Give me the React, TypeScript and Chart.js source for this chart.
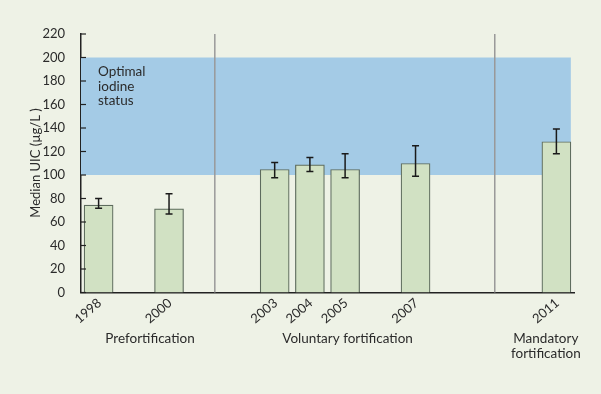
import React, { useEffect, useRef } from "react";
import { Chart, registerables } from "chart.js";

Chart.register(...registerables);

const years = [1998, 2000, 2003, 2004, 2005, 2007, 2011];
const medians = [74.3, 71.2, 104.7, 108.7, 104.7, 109.8, 128.3];
const errLow = [71.8, 66.9, 97.6, 103.0, 97.6, 99.0, 118.0];
const errHigh = [80.0, 84.0, 110.7, 114.9, 118.0, 124.9, 139.1];
const yTicks = [0, 20, 40, 60, 80, 100, 120, 140, 160, 180, 200, 220];
const bandRange = [100, 200];
const separators = [2001.3, 2009.25];
const periodLabels = [
  { lines: ["Prefortification"], at: 1999.46 },
  { lines: ["Voluntary fortification"], at: 2005.07 },
  { lines: ["Mandatory", "fortification"], at: 2010.7 },
];
const bandLabel = ["Optimal", "iodine", "status"];
const yTitle = "Median UIC (µg/L )";

const FONT = "Lato, 'Open Sans', sans-serif";
const BG = "#eef2e6";
const BLUE = "#a4cbe6";
const TEXT = "#2b2b2b";

export default function App() {
  const ref = useRef<HTMLCanvasElement>(null);
  useEffect(() => {
    const canvas = ref.current!;
    const decor = {
      id: "decor",
      beforeDraw(chart: any) {
        const { ctx } = chart;
        ctx.save();
        ctx.fillStyle = BG;
        ctx.fillRect(0, 0, chart.width, chart.height);
        ctx.restore();
      },
      beforeDatasetsDraw(chart: any) {
        const { ctx, chartArea } = chart;
        const xs = chart.scales.x;
        const ys = chart.scales.y;
        ctx.save();
        ctx.fillStyle = BLUE;
        const bx0 = chartArea.left;
        const bx1 = xs.getPixelForValue(2011.41);
        const by0 = ys.getPixelForValue(bandRange[1]);
        const by1 = ys.getPixelForValue(bandRange[0]);
        ctx.fillRect(bx0, by0, bx1 - bx0, by1 - by0);
        ctx.strokeStyle = "#999999";
        ctx.lineWidth = 1.5;
        separators.forEach((s) => {
          const px = xs.getPixelForValue(s);
          ctx.beginPath();
          ctx.moveTo(px, ys.getPixelForValue(220));
          ctx.lineTo(px, chartArea.bottom);
          ctx.stroke();
        });
        ctx.fillStyle = TEXT;
        ctx.font = `13.5px ${FONT}`;
        ctx.textBaseline = "middle";
        ctx.textAlign = "left";
        bandLabel.forEach((t, i) => {
          ctx.fillText(t, chartArea.left + 17, 71.5 + i * 14.7);
        });
        ctx.restore();
      },
      afterDatasetsDraw(chart: any) {
        const { ctx, chartArea } = chart;
        const xs = chart.scales.x;
        const ys = chart.scales.y;
        ctx.save();
        ctx.strokeStyle = "#1a1a1a";
        ctx.lineWidth = 1.5;
        years.forEach((yr, i) => {
          const px = xs.getPixelForValue(yr);
          const lo = ys.getPixelForValue(errLow[i]);
          const hi = ys.getPixelForValue(errHigh[i]);
          ctx.beginPath();
          ctx.moveTo(px, lo);
          ctx.lineTo(px, hi);
          ctx.moveTo(px - 3.5, lo);
          ctx.lineTo(px + 3.5, lo);
          ctx.moveTo(px - 3.5, hi);
          ctx.lineTo(px + 3.5, hi);
          ctx.stroke();
        });
        ctx.strokeStyle = "#222";
        ctx.lineWidth = 1.2;
        yTicks.forEach((v) => {
          const py = ys.getPixelForValue(v);
          ctx.beginPath();
          ctx.moveTo(chartArea.left, py);
          ctx.lineTo(chartArea.left + 5, py);
          ctx.stroke();
        });
        ctx.fillStyle = TEXT;
        // rotated year labels
        ctx.font = `13px ${FONT}`;
        ctx.textAlign = "center";
        ctx.textBaseline = "middle";
        years.forEach((yr) => {
          const px = xs.getPixelForValue(yr);
          ctx.save();
          ctx.translate(px - 10.5, chartArea.bottom + 18.5);
          ctx.rotate((-40 * Math.PI) / 180);
          ctx.fillText(String(yr), 0, 0);
          ctx.restore();
        });
        ctx.font = `13.5px ${FONT}`;
        periodLabels.forEach((p) => {
          const px = xs.getPixelForValue(p.at);
          p.lines.forEach((l, j) => ctx.fillText(l, px, 339 + j * 14.5));
        });
        ctx.font = `13px ${FONT}`;
        ctx.translate(36, 163);
        ctx.rotate(-Math.PI / 2);
        ctx.fillText(yTitle, 0, 0);
        ctx.restore();
      },
    };
    const chart = new Chart(canvas, {
      type: "bar",
      data: {
        datasets: [
          {
            data: years.map((y, i) => ({ x: y, y: medians[i] })),
            backgroundColor: "#d1e1c3",
            borderColor: "#5d6b5d",
            borderWidth: 1.2,
            barThickness: 29,
          },
        ],
      },
      options: {
        animation: false,
        responsive: false,
        events: [],
        layout: { padding: { top: 34, right: 27, left: 0, bottom: 0 } },
        plugins: { legend: { display: false }, tooltip: { enabled: false } },
        scales: {
          x: {
            type: "linear",
            offset: false,
            min: 1997.5,
            max: 2011.5,
            afterBuildTicks: (s: any) => {
              s.ticks = years.map((v) => ({ value: v }));
            },
            afterFit: (s: any) => {
              s.height = 101.5;
            },
            grid: { display: false },
            border: { display: true, color: "#222", width: 1.5 },
            ticks: { display: false },
          },
          y: {
            min: 0,
            max: 220,
            afterBuildTicks: (s: any) => {
              s.ticks = yTicks.map((v) => ({ value: v }));
            },
            afterFit: (s: any) => {
              s.width = 81;
            },
            grid: { display: false },
            border: { display: true, color: "#222", width: 1.5 },
            ticks: {
              padding: 8,
              color: TEXT,
              font: { family: FONT, size: 13 },
            },
          },
        },
      },
      plugins: [decor],
    });
    return () => chart.destroy();
  }, []);
  return (
    <div style={{ position: "fixed", left: 0, top: 0, width: 601, height: 394, background: BG }}>
      <canvas ref={ref} width={601} height={394} style={{ display: "block" }} />
    </div>
  );
}
